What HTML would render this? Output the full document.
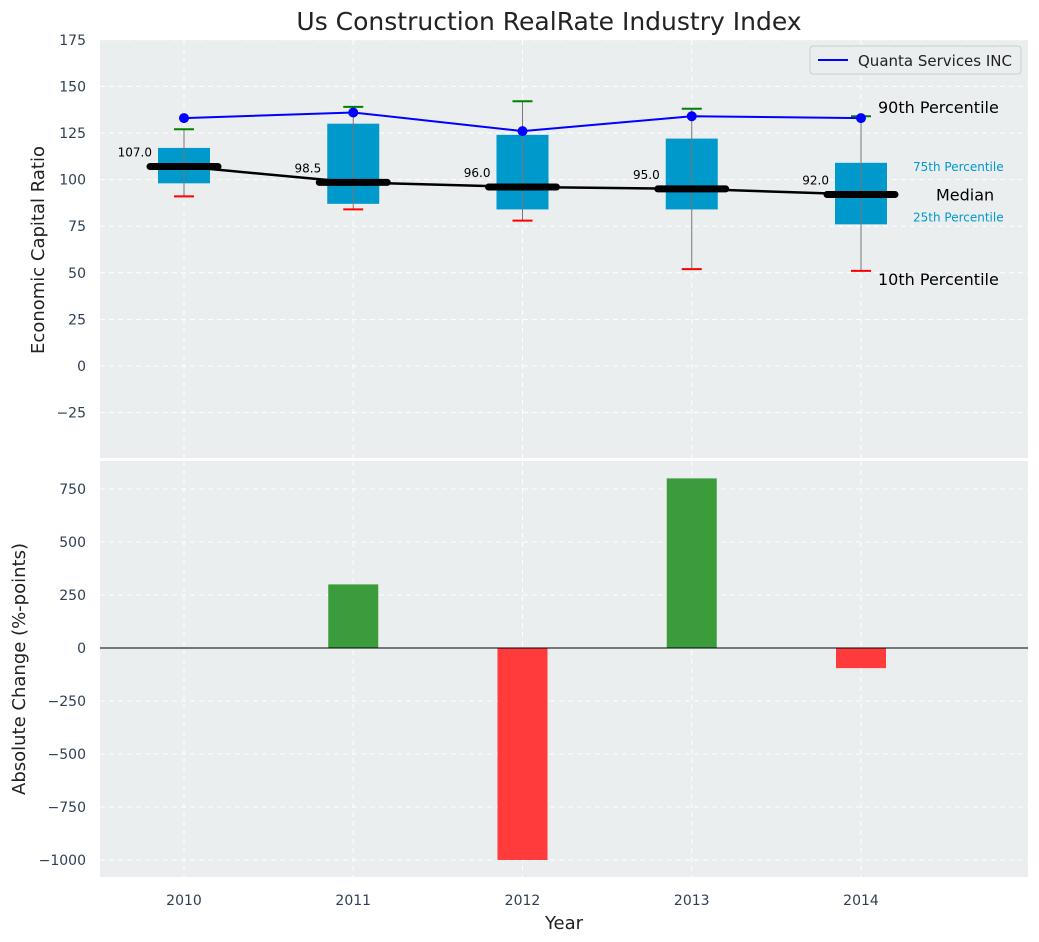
<!DOCTYPE html>
<html><head><meta charset="utf-8">
<style>
html,body{margin:0;padding:0;background:#fff;}
svg{display:block;font-family:"DejaVu Sans","Liberation Sans",sans-serif;}
</style></head>
<body>
<svg id="chart" width="1039" height="942" viewBox="0 0 1039 942" xmlns="http://www.w3.org/2000/svg">
<text x="549" y="30" font-size="25" fill="#222" text-anchor="middle">Us Construction RealRate Industry Index</text>
<rect x="100" y="40" width="928" height="418" fill="#eaeeef"/>
<rect x="100" y="461" width="928" height="416" fill="#eaeeef"/>
<g id="topg"></g>
<g id="botg"></g>
<text transform="translate(44,250) rotate(-90)" font-size="18" fill="#222" text-anchor="middle">Economic Capital Ratio</text>
<text transform="translate(25,669) rotate(-90)" font-size="18" fill="#222" text-anchor="middle">Absolute Change (%-points)</text>
<text x="564" y="929" font-size="18" fill="#222" text-anchor="middle">Year</text>
<g>
<rect x="810" y="46" width="211" height="28" fill="#eaeeef" stroke="#ccc" rx="3"/>
<line x1="818" y1="60" x2="848" y2="60" stroke="#0000ff" stroke-width="2"/>
<text x="858" y="66" font-size="15" fill="#222">Quanta Services INC</text>
</g>
</svg>
<script>
const years=[2010,2011,2012,2013,2014];
const q1=[98,87,84,84,76];
const q3=[117,130,124,122,109];
const medians=[107,98.5,96,95,92];
const p10=[91,84,78,52,51];
const p90=[127,139,142,138,134];
const company=[133,136,126,134,133];
const changes=[0,300,-1000,800,-95];
const topTicks=[175,150,125,100,75,50,25,0,-25];
const botTicks=[750,500,250,0,-250,-500,-750,-1000];

const NS="http://www.w3.org/2000/svg";
function xs(y){return 184+(y-2010)*169.25;}
function ysTop(v){return 366-v*(46.6/25);}
function ysBot(v){return 648-v*(53/250);}
function mk(parent,tag,attrs,text){const e=document.createElementNS(NS,tag);for(const k in attrs)e.setAttribute(k,attrs[k]);if(text!==undefined)e.textContent=text;parent.appendChild(e);return e;}
const topG=document.getElementById('topg'),botG=document.getElementById('botg');

topTicks.forEach(t=>{const y=ysTop(t);
 const g=mk(topG,'line',{x1:100,x2:1028,y1:y,y2:y,stroke:'#fff','stroke-dasharray':'5,4','stroke-width':1});
 
 
 const l=mk(topG,'text',{x:86,y:y+5,'font-size':14,fill:'#2e3f55','text-anchor':'end'},t<0?'\u2212'+(-t):t);
 
 });
botTicks.forEach(t=>{const y=ysBot(t);
 const g=mk(botG,'line',{x1:100,x2:1028,y1:y,y2:y,stroke:'#fff','stroke-dasharray':'5,4','stroke-width':1});
 
 
 const l=mk(botG,'text',{x:86,y:y+5,'font-size':14,fill:'#2e3f55','text-anchor':'end'},t<0?'\u2212'+(-t):t);
 
 });
years.forEach(yr=>{const x=xs(yr);
 const a=mk(topG,'line',{x1:x,x2:x,y1:40,y2:458,stroke:'#fff','stroke-dasharray':'5,4'});
 
 
 const b=mk(botG,'line',{x1:x,x2:x,y1:461,y2:877,stroke:'#fff','stroke-dasharray':'5,4'});
 
 
 const l=mk(botG,'text',{x:x,y:905,'font-size':14,fill:'#2e3f55','text-anchor':'middle'},yr);
 
 });

years.forEach((yr,i)=>{const x=xs(yr);
 const b=mk(topG,'rect',{x:x-26,y:ysTop(q3[i]),width:52,height:ysTop(q1[i])-ysTop(q3[i]),fill:'#0099cc'});
 
 
 const w=mk(topG,'line',{x1:x,x2:x,y1:ysTop(p90[i]),y2:ysTop(p10[i]),stroke:'#777','stroke-width':1});
 
 
 const c1=mk(topG,'line',{x1:x-10,x2:x+10,y1:ysTop(p90[i]),y2:ysTop(p90[i]),stroke:'#008000','stroke-width':2});
 
 
 const c2=mk(topG,'line',{x1:x-10,x2:x+10,y1:ysTop(p10[i]),y2:ysTop(p10[i]),stroke:'#ff0000','stroke-width':2});
 
 
});
const mp=years.map((yr,i)=>xs(yr)+','+ysTop(medians[i])).join(' ');
const ml=mk(topG,'polyline',{points:mp,fill:'none',stroke:'#000','stroke-width':2.5});


years.forEach((yr,i)=>{const x=xs(yr),y=ysTop(medians[i]);
 const m=mk(topG,'line',{x1:x-34,x2:x+34,y1:y,y2:y,stroke:'#000','stroke-width':7,'stroke-linecap':'round'});
 
 
 const t=mk(topG,'text',{x:x-32,y:y-10,'font-size':12,fill:'#000','text-anchor':'end'},medians[i].toFixed(1));
 
 });
const cp=years.map((yr,i)=>xs(yr)+','+ysTop(company[i])).join(' ');
const cl=mk(topG,'polyline',{points:cp,fill:'none',stroke:'#0000ff','stroke-width':2});


years.forEach((yr,i)=>{const d=mk(topG,'circle',{cx:xs(yr),cy:ysTop(company[i]),r:5,fill:'#0000ff'});
 
 });
const li=years.length-1,lx=xs(years[li]);
const ann=[[lx+17,ysTop(p90[li])-3,'90th Percentile',16,'#000','start','p90-annotation'],
 [lx+17,ysTop(p10[li])+14,'10th Percentile',16,'#000','start','p10-annotation'],
 [lx+75,ysTop(medians[li])+6,'Median',16,'#000','start','median-annotation'],
 [lx+52,ysTop(q3[li])+8,'75th Percentile',12,'#0099cc','start','p75-annotation'],
 [lx+52,ysTop(q1[li])-3,'25th Percentile',12,'#0099cc','start','p25-annotation']];
ann.forEach(a=>{const t=mk(topG,'text',{x:a[0],y:a[1],'font-size':a[3],fill:a[4],'text-anchor':a[5]},a[2]);
 
 });

years.forEach((yr,i)=>{const v=changes[i];if(v===0)return;const y0=ysBot(0),y1=ysBot(v);
 const r=mk(botG,'rect',{x:xs(yr)-25,y:Math.min(y0,y1),width:50,height:Math.abs(y1-y0),fill:v>0?'#3a9c3a':'#ff3b3b'});
 
 });
const z=mk(botG,'line',{x1:100,x2:1028,y1:ysBot(0),y2:ysBot(0),stroke:'#000','stroke-width':1});


</script>
</body></html>
